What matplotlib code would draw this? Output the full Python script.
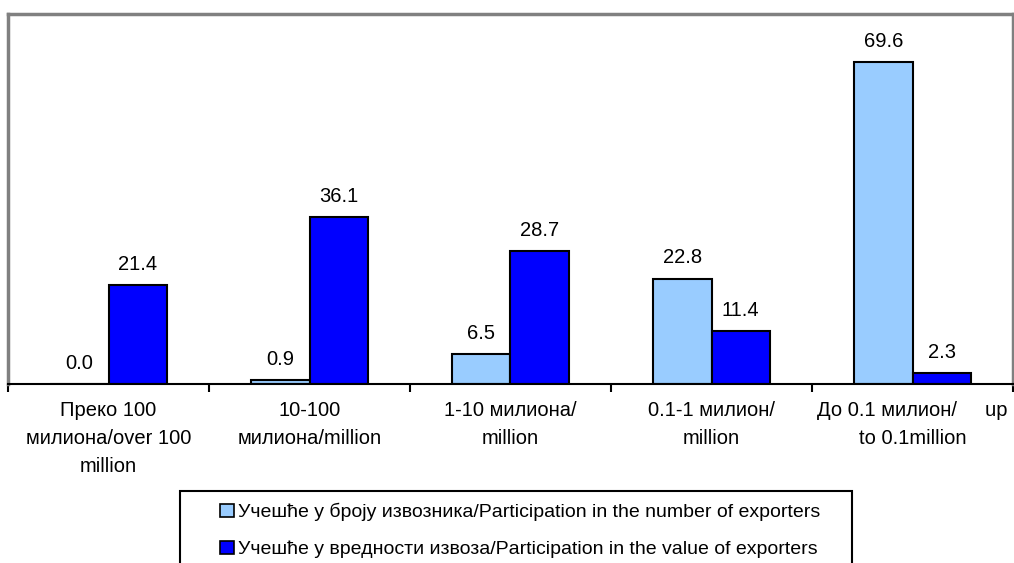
import numpy as np
import matplotlib
matplotlib.use('Agg')
import matplotlib.pyplot as plt
from matplotlib.patches import Patch, Rectangle

plt.rcParams['font.family'] = ['Liberation Sans', 'DejaVu Sans']

# data
categories = ['Преко 100\nмилиона/over 100\nmillion',
              '10-100\nмилиона/million',
              '1-10 милиона/\nmillion',
              '0.1-1 милион/\nmillion',
              'До 0.1 милион/     up\nto 0.1million']
number_share = [0.0, 0.9, 6.5, 22.8, 69.6]
value_share = [21.4, 36.1, 28.7, 11.4, 2.3]
labels = ['Учешће у броју извозника/Participation in the number of exporters',
          'Учешће у вредности извоза/Participation in the value of exporters']

light = '#99CCFF'
dark = '#0000FF'

fig = plt.figure(figsize=(10.14, 5.63), dpi=100)
ax = fig.add_axes([8/1014, 1-384/563, 1005/1014, 370/563])

x = np.arange(len(categories))
w = 0.289
b1 = ax.bar(x - w/2, number_share, w, color=light, edgecolor='black', linewidth=1.5)
b2 = ax.bar(x + w/2, value_share, w, color=dark, edgecolor='black', linewidth=1.5)

for bars, vals in [(b1, number_share), (b2, value_share)]:
    for r, v in zip(bars, vals):
        ax.annotate(f'{v:.1f}', (r.get_x() + r.get_width()/2, r.get_height()),
                    xytext=(0, 8), textcoords='offset points',
                    ha='center', va='bottom', fontsize=14.5)

ax.set_xlim(-0.5, len(categories) - 0.5)
ax.set_ylim(0, 80)
ax.set_yticks([])
ax.set_xticks(x)
ax.set_xticklabels(categories, fontsize=14.5, linespacing=1.6)
ax.set_xticks(np.arange(-0.5, len(categories)), minor=True)
ax.tick_params(axis='x', which='major', length=0, pad=12)
ax.tick_params(axis='x', which='minor', length=6, width=1.5, direction='out')

for s in ['top', 'left', 'right']:
    ax.spines[s].set_color('#808080')
    ax.spines[s].set_linewidth(2.5)
ax.spines['bottom'].set_color('black')
ax.spines['bottom'].set_linewidth(1.5)

# legend box drawn separately so the padding can match (it runs off the bottom)
fig.patches.append(Rectangle((180/1014, 1-575/563), 672/1014, 84/563,
                             transform=fig.transFigure, facecolor='white',
                             edgecolor='black', linewidth=1.5, zorder=1))
handles = [Patch(facecolor=light, edgecolor='black', linewidth=1.2),
           Patch(facecolor=dark, edgecolor='black', linewidth=1.2)]
leg = fig.legend(handles, labels, loc='upper left',
                 bbox_to_anchor=(220/1014, 1-503/563), fontsize=14,
                 frameon=False,
                 handlelength=0.7, handleheight=0.7, handletextpad=0.2,
                 labelspacing=1.0, borderpad=0, borderaxespad=0)
leg.set_zorder(2)

fig.savefig('out.png', dpi=100, facecolor='white')
